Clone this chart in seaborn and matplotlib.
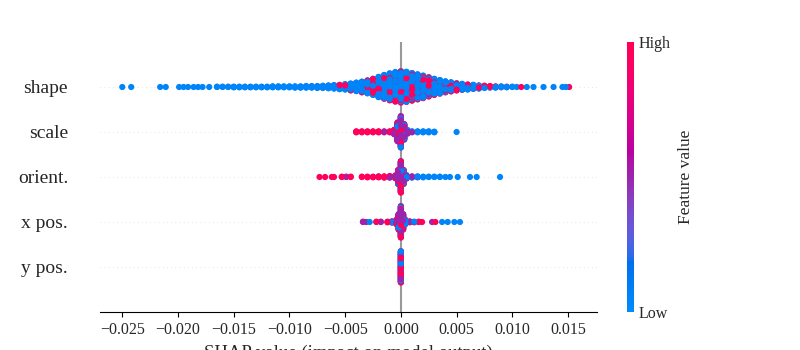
import numpy as np
import pandas as pd
import seaborn as sns
import matplotlib.pyplot as plt
from matplotlib.cm import ScalarMappable
from matplotlib.colors import ListedColormap, Normalize

# feature rows, top first
features = ["shape", "scale", "orient.", "x pos.", "y pos."]

# feature values used for the low / mid / high colour groups
LEVELS = (0.05, 0.5, 0.95)

# shape: counts on 0.0005-wide bins of SHAP value, and how many of them are high
shape_bins = np.round(np.arange(-0.0165, 0.01001, 0.0005), 4)
shape_n = [2, 2, 2, 3, 3,
           3, 3, 3, 3, 3, 4, 4, 4, 4,
           5, 5, 6, 6,
           7, 8, 10, 12, 15, 18,
           23, 28, 35, 42, 52, 65, 76, 86, 94,
           100,
           96, 88, 80, 72, 62, 52, 44,
           36, 30, 24, 20, 17, 14, 11,
           8, 6, 5, 4, 3, 2]
shape_hi = [0] * 18 + [1, 1, 1, 2, 2, 3,
                       4, 5, 7, 9, 12, 16, 20, 24, 28,
                       32,
                       32, 28, 26, 23, 20, 17, 14,
                       12, 10, 8, 7, 6, 5, 4,
                       4, 3, 2, 1, 1, 0]
# single dots out in the tails
shape_tail_x = [-0.0250, -0.0242, -0.0216, -0.0211, -0.0199, -0.0195, -0.0191,
                -0.0186, -0.0182, -0.0178, -0.0172,
                0.0104, 0.0108, 0.0113, 0.0119, 0.0128, 0.0137, 0.0145, 0.0148, 0.0151]
shape_tail_v = [0.05] * 11 + [0.05, 0.95, 0.05, 0.05, 0.05, 0.05, 0.05, 0.05, 0.95]

scale_x = [-0.0040, -0.0035, -0.0030, -0.0025, -0.0020, -0.0015, -0.0010,
           -0.0006, -0.0003, 0.0, 0.0003, 0.0006,
           0.0010, 0.0015, 0.0020, 0.0025, 0.0030, 0.0050]
scale_lo = [0, 0, 0, 0, 0, 0, 1, 1, 8, 15, 15, 7, 3, 4, 4, 4, 3, 1]
scale_mid = [0, 0, 0, 0, 0, 1, 1, 8, 40, 65, 30, 4, 1, 0, 0, 0, 0, 0]
scale_hi = [4, 4, 4, 4, 4, 3, 2, 6, 12, 20, 5, 1, 0, 0, 0, 0, 0, 0]

orient_x = [-0.0073, -0.0068, -0.0062, -0.0060,
            -0.0053, -0.0049, -0.0045,
            -0.0035, -0.0030, -0.0025, -0.0020, -0.0015, -0.0010,
            -0.0005, -0.00025, 0.0, 0.00025, 0.0005,
            0.0010, 0.0015, 0.0020, 0.0025, 0.0030, 0.0035, 0.0040, 0.0044,
            0.0051, 0.0062, 0.0068, 0.0089]
orient_lo = [0, 0, 0, 0, 0, 0, 0, 0, 0, 0, 0, 0, 0,
             2, 10, 25, 20, 6, 3, 3, 3, 2, 2, 2, 1, 1, 1, 1, 1, 1]
orient_mid = [0, 0, 0, 0, 0, 1, 0, 0, 0, 1, 1, 1, 2,
              4, 20, 40, 18, 5, 2, 1, 0, 0, 0, 0, 0, 0, 0, 0, 0, 0]
orient_hi = [1, 1, 1, 1, 2, 1, 2, 2, 3, 2, 3, 4, 4,
             4, 15, 35, 7, 1, 0, 0, 0, 0, 0, 0, 0, 0, 0, 0, 0, 0]

xpos_x = [-0.0034, -0.0031, -0.0028, -0.0022, -0.0018, -0.0012, -0.0008,
          -0.0004, -0.0002, 0.0, 0.0002, 0.0004,
          0.0008, 0.0012, 0.0016, 0.0019,
          0.0028, 0.0031, 0.0037, 0.0042, 0.0048, 0.0053]
xpos_lo = [0, 0, 1, 0, 0, 0, 1, 2, 8, 15, 8, 3, 1, 1, 0, 0, 0, 0, 1, 1, 1, 1]
xpos_mid = [1, 1, 0, 1, 1, 1, 2, 8, 27, 55, 27, 8, 2, 0, 1, 0, 1, 0, 0, 0, 0, 0]
xpos_hi = [1, 0, 0, 1, 1, 2, 2, 5, 15, 30, 15, 4, 1, 2, 1, 1, 0, 1, 0, 0, 0, 0]

ypos_x = [0.0]
ypos_lo = [30]
ypos_mid = [40]
ypos_hi = [30]


def lch_to_rgb(l, c, h):
    a, b = c * np.cos(h), c * np.sin(h)
    fy = (l + 16) / 116
    f = np.array([fy + a / 500, fy, fy - b / 200])
    xyz = np.where(f > 6 / 29, f ** 3, (f - 16 / 116) / 7.787)
    xyz = xyz * np.array([0.95047, 1.0, 1.08883])[:, None]
    m = np.array([[3.2404542, -1.5371385, -0.4985314],
                  [-0.9692660, 1.8760108, 0.0415560],
                  [0.0556434, -0.2040259, 1.0572252]])
    rgb = m @ xyz
    rgb = np.where(rgb > 0.0031308, 1.055 * np.abs(rgb) ** (1 / 2.4) - 0.055, 12.92 * rgb)
    return np.clip(rgb, 0, 1).T


def make_red_blue(nsteps=100):
    l_vals = np.r_[np.linspace(54, 40, nsteps // 2), np.linspace(40, 54, nsteps // 2)]
    c_vals = np.linspace(70, 90, nsteps)
    h_vals = np.linspace(4.6588, 0.35470565 + 2 * np.pi, nsteps)
    return ListedColormap(lch_to_rgb(l_vals, c_vals, h_vals), name="red_blue")


def bin_points(xs, lo, mid, hi):
    px, pv = [], []
    for x, counts in zip(xs, zip(lo, mid, hi)):
        keys, vals = [], []
        for level, n in zip(LEVELS, counts):
            keys += [(k + 0.5) / n for k in range(n)]
            vals += [level] * n
        order = np.argsort(keys, kind="stable")
        px += [x] * len(vals)
        pv += [vals[i] for i in order]
    return px, pv


def beeswarm(xs, row_height=0.4):
    xs = np.asarray(xs)
    ys = np.zeros(len(xs))
    for v in np.unique(xs):
        idx = np.flatnonzero(xs == v)
        layer = np.arange(len(idx))
        ys[idx] = np.ceil(layer / 2) * ((layer % 2) * 2 - 1)
    return ys * 0.9 * row_height / np.max(np.abs(ys) + 1)


shape_px, shape_pv = bin_points(shape_bins, [n - h for n, h in zip(shape_n, shape_hi)],
                                [0] * len(shape_n), shape_hi)
points = {
    "shape": (shape_px + shape_tail_x, shape_pv + shape_tail_v),
    "scale": bin_points(scale_x, scale_lo, scale_mid, scale_hi),
    "orient.": bin_points(orient_x, orient_lo, orient_mid, orient_hi),
    "x pos.": bin_points(xpos_x, xpos_lo, xpos_mid, xpos_hi),
    "y pos.": bin_points(ypos_x, ypos_lo, ypos_mid, ypos_hi),
}

frames = []
for row, name in enumerate(features[::-1]):
    xs, vs = points[name]
    frames.append(pd.DataFrame({"shap": xs, "row": row + beeswarm(xs), "value": vs}))
df = pd.concat(frames, ignore_index=True)
# shuffle drawing order deterministically so no colour always sits on top
df = df.iloc[np.argsort((np.arange(len(df)) * 0.6180339887) % 1)]

red_blue = make_red_blue()

sns.set_theme(style="ticks")
plt.rcParams["font.family"] = ["Liberation Serif", "DejaVu Serif"]

fig = plt.figure(figsize=(8, 3.5), dpi=100)
ax = fig.add_axes([0.125, 0.1086, 0.62125, 0.7714])
ax.axvline(0, color="#999999", zorder=-1)
for row in range(len(features)):
    ax.axhline(row, color="#cccccc", lw=0.5, dashes=(1, 5), zorder=-1)

sns.scatterplot(data=df, x="shap", y="row", hue="value", palette=red_blue,
                hue_norm=(0, 1), s=20, linewidth=0, legend=False, ax=ax)

ax.set_xlim(-0.0270, 0.0176)
ax.set_ylim(-1, len(features))
ax.set_yticks(range(len(features)))
ax.set_yticklabels(features[::-1], fontsize=14)
ax.tick_params(axis="y", length=0, pad=23)
ax.tick_params(axis="x", labelsize=11.5, length=3.5, width=0.8, color="black")
for side in ["left", "top", "right"]:
    ax.spines[side].set_visible(False)
ax.spines["bottom"].set_color("black")
ax.spines["bottom"].set_linewidth(0.8)
ax.set_xlabel("SHAP value (impact on model output)", fontsize=13.5, labelpad=5)
ax.set_ylabel("")

cax = fig.add_axes([0.78375, 0.1086, 0.00875, 0.7714])
cb = fig.colorbar(ScalarMappable(norm=Normalize(0, 1), cmap=red_blue), cax=cax, ticks=[0, 1])
cb.set_ticklabels(["Low", "High"])
cb.set_label("Feature value", size=12.5, labelpad=5)
cb.ax.tick_params(labelsize=11.5, length=0)
cb.outline.set_visible(False)

fig.savefig("out.png", dpi=100)
